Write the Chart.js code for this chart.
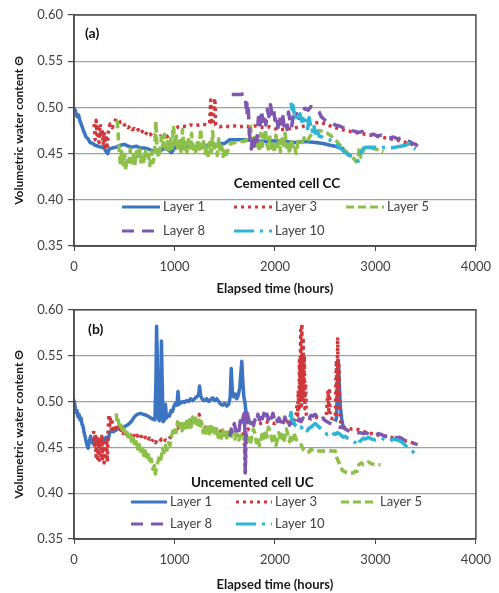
<!DOCTYPE html>
<html>
<head>
<meta charset="utf-8">
<title>Volumetric water content</title>
<script src="https://cdn.jsdelivr.net/npm/chart.js@4"></script>
<style>
  body { margin: 0; background: #fff; }
  canvas { display: block; }
</style>
</head>
<body>
<canvas id="chartCC" width="499" height="297"></canvas>
<canvas id="chartUC" width="499" height="296"></canvas>
<script>
const FONT = 'Lato, "Open Sans", sans-serif';

// Series names and styles, shared by both cells
const layerNames = ["Layer 1", "Layer 3", "Layer 5", "Layer 8", "Layer 10"];
const layerColors = ["#3b74c2", "#d0373b", "#8cc048", "#7e57b0", "#2eb4d6"];
const layerDashes = [[], [3, 4], [8, 4], [12, 8], [20, 6, 3, 6]];

const xTicks = [0, 1000, 2000, 3000, 4000];
const yTicks = [0.35, 0.40, 0.45, 0.50, 0.55, 0.60];

// Cemented cell CC - [elapsed hours, theta]
const ccLayer1 = [[0,0.500],[15,0.496],[30,0.490],[45,0.492],[60,0.485],[75,0.481],[90,0.476],[105,0.472],[120,0.468],[140,0.466],[160,0.462],[185,0.461],[210,0.459],[240,0.458],[270,0.457],[300,0.456],[320,0.452],[335,0.450],[350,0.455],[380,0.456],[420,0.457],[460,0.459],[500,0.460],[540,0.458],[580,0.457],[620,0.458],[660,0.456],[700,0.456],[740,0.455],[780,0.453],[820,0.454],[860,0.453],[900,0.456],[940,0.454],[970,0.451],[1000,0.456],[1050,0.457],[1100,0.456],[1150,0.457],[1200,0.456],[1250,0.458],[1300,0.458],[1350,0.460],[1400,0.459],[1450,0.461],[1500,0.461],[1550,0.465],[1600,0.465],[1700,0.465],[1800,0.464],[1900,0.463],[2000,0.464],[2100,0.463],[2200,0.462],[2300,0.463],[2400,0.462],[2480,0.461],[2550,0.459],[2600,0.458],[2650,0.456],[2690,0.455]];
const ccLayer3 = [[200,0.482],[210,0.465],[220,0.486],[230,0.470],[240,0.478],[250,0.462],[260,0.482],[270,0.468],[280,0.476],[290,0.460],[300,0.474],[310,0.457],[320,0.470],[330,0.455],[345,0.478],[360,0.482],[380,0.478],[400,0.483],[420,0.488],[440,0.486],[460,0.484],[480,0.485],[500,0.481],[520,0.482],[540,0.478],[560,0.480],[580,0.476],[600,0.477],[620,0.474],[640,0.476],[660,0.472],[680,0.474],[700,0.470],[720,0.472],[740,0.469],[760,0.471],[780,0.468],[800,0.470],[830,0.467],[860,0.469],[890,0.467],[920,0.468],[950,0.470],[980,0.473],[1010,0.477],[1040,0.479],[1080,0.480],[1120,0.479],[1160,0.481],[1200,0.480],[1240,0.481],[1280,0.482],[1320,0.481],[1350,0.483],[1360,0.508],[1368,0.483],[1385,0.482],[1395,0.505],[1402,0.510],[1410,0.481],[1450,0.479],[1500,0.480],[1550,0.479],[1600,0.480],[1650,0.479],[1700,0.480],[1750,0.479],[1800,0.480],[1850,0.479],[1900,0.478],[1950,0.479],[2000,0.477],[2050,0.476],[2100,0.476],[2150,0.477],[2200,0.478],[2250,0.479],[2300,0.480],[2350,0.482],[2400,0.483],[2450,0.484],[2500,0.482],[2550,0.480],[2600,0.478],[2650,0.477],[2700,0.475],[2750,0.474],[2800,0.473],[2850,0.472],[2900,0.471],[2950,0.470],[3000,0.469],[3100,0.467],[3200,0.465],[3300,0.462],[3400,0.459]];
const ccLayer5 = [[430,0.486],[440,0.470],[450,0.452],[460,0.440],[475,0.452],[490,0.438],[505,0.449],[515,0.432],[530,0.446],[545,0.441],[560,0.455],[575,0.440],[590,0.448],[605,0.437],[620,0.452],[635,0.443],[650,0.457],[665,0.441],[680,0.450],[695,0.439],[710,0.455],[725,0.444],[740,0.449],[755,0.437],[770,0.452],[785,0.440],[800,0.447],[815,0.485],[825,0.456],[840,0.446],[855,0.452],[870,0.468],[885,0.458],[900,0.471],[915,0.455],[930,0.463],[945,0.452],[960,0.466],[975,0.454],[990,0.480],[1005,0.458],[1020,0.469],[1035,0.453],[1050,0.464],[1065,0.452],[1080,0.476],[1095,0.455],[1110,0.462],[1125,0.451],[1140,0.467],[1155,0.453],[1170,0.472],[1185,0.455],[1200,0.460],[1215,0.450],[1230,0.465],[1245,0.452],[1260,0.477],[1275,0.456],[1290,0.463],[1305,0.450],[1320,0.458],[1335,0.448],[1350,0.462],[1365,0.451],[1380,0.474],[1395,0.453],[1410,0.460],[1425,0.448],[1440,0.466],[1455,0.452],[1470,0.458],[1485,0.447],[1500,0.455],[1515,0.449],[1530,0.453],[1560,0.461],[1600,0.462],[1650,0.463],[1700,0.463],[1740,0.470],[1755,0.482],[1770,0.465],[1785,0.458],[1800,0.470],[1815,0.455],[1830,0.466],[1845,0.452],[1860,0.472],[1875,0.458],[1890,0.466],[1905,0.476],[1920,0.460],[1935,0.455],[1950,0.468],[1965,0.456],[1980,0.462],[1995,0.451],[2010,0.470],[2025,0.458],[2040,0.463],[2055,0.452],[2070,0.466],[2085,0.459],[2100,0.472],[2115,0.457],[2130,0.463],[2145,0.450],[2160,0.465],[2175,0.458],[2190,0.461],[2210,0.450],[2230,0.463],[2260,0.460],[2290,0.467],[2320,0.463],[2350,0.469],[2380,0.472],[2410,0.474],[2440,0.475],[2480,0.474],[2520,0.472],[2560,0.469],[2600,0.465],[2640,0.460],[2680,0.455],[2720,0.451],[2760,0.447],[2790,0.444],[2810,0.441],[2825,0.444],[2840,0.457],[2855,0.446],[2870,0.451],[2890,0.456],[2920,0.457],[2960,0.456],[3000,0.455],[3040,0.454],[3080,0.452]];
const ccLayer8 = [[1570,0.514],[1600,0.514],[1630,0.514],[1660,0.514],[1690,0.515],[1705,0.513],[1712,0.500],[1718,0.510],[1725,0.490],[1735,0.498],[1745,0.475],[1755,0.462],[1765,0.455],[1775,0.468],[1790,0.458],[1805,0.472],[1820,0.463],[1835,0.489],[1850,0.478],[1865,0.497],[1880,0.485],[1895,0.493],[1910,0.481],[1925,0.498],[1940,0.490],[1955,0.503],[1970,0.493],[1985,0.499],[2000,0.486],[2015,0.492],[2030,0.478],[2045,0.490],[2060,0.482],[2075,0.494],[2090,0.480],[2105,0.486],[2120,0.476],[2135,0.495],[2150,0.485],[2165,0.478],[2180,0.490],[2200,0.484],[2220,0.493],[2240,0.488],[2260,0.495],[2280,0.497],[2300,0.499],[2330,0.497],[2360,0.501],[2380,0.500],[2410,0.498],[2440,0.495],[2460,0.490],[2480,0.488],[2510,0.485],[2540,0.484],[2570,0.483],[2600,0.481],[2640,0.480],[2680,0.478],[2720,0.476],[2760,0.475],[2800,0.474],[2840,0.473],[2870,0.474],[2900,0.471],[2940,0.470],[2980,0.471],[3020,0.469],[3060,0.470],[3100,0.468],[3140,0.467],[3180,0.468],[3220,0.466],[3260,0.467],[3300,0.464],[3340,0.463],[3370,0.461],[3400,0.460],[3420,0.458]];
const ccLayer10 = [[2160,0.505],[2170,0.498],[2180,0.502],[2190,0.494],[2200,0.497],[2210,0.489],[2220,0.494],[2235,0.490],[2250,0.493],[2265,0.485],[2280,0.488],[2295,0.481],[2310,0.486],[2325,0.477],[2340,0.489],[2355,0.480],[2370,0.474],[2385,0.482],[2400,0.472],[2420,0.474],[2440,0.469],[2470,0.468],[2500,0.466],[2540,0.465],[2580,0.462],[2620,0.459],[2660,0.455],[2700,0.451],[2740,0.448],[2780,0.447],[2810,0.444],[2830,0.442],[2845,0.447],[2860,0.452],[2880,0.456],[2910,0.457],[2950,0.457],[3000,0.457],[3050,0.456],[3100,0.457],[3150,0.456],[3200,0.457],[3250,0.458],[3300,0.459],[3340,0.461],[3360,0.460],[3380,0.456],[3400,0.455]];

// Uncemented cell UC - [elapsed hours, theta]; null breaks the trace
const ucLayer1 = [[0,0.502],[10,0.495],[20,0.488],[30,0.490],[40,0.483],[50,0.486],[60,0.480],[70,0.482],[80,0.475],[90,0.473],[100,0.466],[110,0.462],[120,0.457],[130,0.452],[140,0.449],[150,0.455],[165,0.462],[175,0.457],[190,0.454],[205,0.460],[220,0.455],[240,0.458],[260,0.457],[280,0.460],[300,0.458],[320,0.461],[340,0.458],[355,0.466],[370,0.468],[390,0.467],[420,0.469],[450,0.472],[480,0.471],[510,0.473],[540,0.475],[570,0.478],[600,0.483],[630,0.486],[660,0.487],[690,0.486],[720,0.485],[750,0.483],[780,0.481],[805,0.480],[815,0.520],[822,0.582],[830,0.540],[838,0.482],[850,0.479],[862,0.500],[870,0.566],[878,0.520],[886,0.478],[900,0.480],[910,0.497],[920,0.482],[935,0.486],[950,0.484],[965,0.490],[980,0.489],[995,0.495],[1010,0.498],[1025,0.496],[1035,0.511],[1045,0.497],[1060,0.498],[1080,0.500],[1100,0.499],[1120,0.501],[1140,0.500],[1160,0.503],[1180,0.501],[1200,0.503],[1220,0.505],[1240,0.507],[1250,0.517],[1260,0.506],[1280,0.502],[1300,0.501],[1320,0.503],[1340,0.500],[1360,0.502],[1380,0.504],[1400,0.501],[1420,0.503],[1440,0.500],[1460,0.497],[1480,0.496],[1500,0.498],[1520,0.495],[1540,0.497],[1555,0.505],[1565,0.536],[1575,0.512],[1590,0.505],[1605,0.508],[1620,0.503],[1635,0.507],[1650,0.515],[1660,0.530],[1670,0.544],[1680,0.522],[1690,0.505],[1700,0.500],[1710,0.490],[1720,0.478],[1740,0.476],[1760,null],[2600,0.478],[2612,0.482],[2620,0.510],[2630,0.545],[2640,0.520],[2650,0.495],[2665,0.480],[2680,0.472],[2700,0.470]];
const ucLayer3 = [[195,0.468],[205,0.452],[212,0.465],[220,0.440],[228,0.462],[236,0.438],[244,0.460],[252,0.436],[260,0.458],[268,0.441],[276,0.462],[284,0.435],[292,0.456],[300,0.433],[308,0.455],[316,0.440],[324,0.459],[332,0.434],[340,0.470],[348,0.486],[356,0.474],[364,0.483],[372,0.470],[380,0.478],[395,0.470],[410,0.474],[425,0.468],[440,0.471],[455,0.466],[470,0.470],[490,0.465],[510,0.468],[530,0.463],[550,0.466],[570,0.462],[590,0.465],[610,0.460],[630,0.463],[650,0.459],[670,0.462],[690,0.458],[710,0.461],[730,0.457],[750,0.460],[770,0.456],[790,0.459],[810,0.455],[830,0.458],[850,0.456],[870,0.459],[890,0.456],[910,0.458],[930,0.457],[950,0.460],[970,0.462],[990,0.466],[1010,0.470],[1030,0.472],[1050,0.470],[1070,0.474],[1090,0.476],[1110,0.474],[1130,0.478],[1150,0.476],[1170,0.480],[1190,0.478],[1210,0.481],[1230,0.484],[1245,0.486],[1260,0.478],[1290,0.474],[1320,0.470],[1350,0.472],[1380,0.468],[1410,0.470],[1440,0.466],[1470,0.468],[1500,0.465],[1530,0.467],[1560,0.464],[1590,0.466],[1620,0.463],[1650,0.466],[1680,0.464],[1695,0.466],[1700,0.440],[1705,0.420],[1710,0.452],[1720,0.468],[1750,0.472],[1800,0.475],[1850,0.476],[1900,0.478],[1950,0.477],[2000,0.476],[2050,0.478],[2100,0.477],[2150,0.479],[2200,0.480],[2212,0.486],[2220,0.498],[2226,0.485],[2232,0.512],[2238,0.490],[2244,0.545],[2250,0.500],[2256,0.578],[2262,0.495],[2268,0.585],[2274,0.505],[2280,0.570],[2286,0.500],[2292,0.550],[2298,0.492],[2305,0.520],[2312,0.486],[2320,0.482],[2360,0.481],[2400,0.483],[2440,0.482],[2480,0.481],[2510,0.483],[2520,0.500],[2528,0.512],[2536,0.490],[2542,0.515],[2550,0.482],[2580,0.481],[2600,0.484],[2606,0.520],[2612,0.545],[2618,0.500],[2624,0.570],[2630,0.505],[2636,0.540],[2644,0.490],[2655,0.476],[2680,0.472],[2720,0.471],[2760,0.470],[2800,0.470],[2840,0.469],[2880,0.467],[2920,0.466],[2960,0.465],[3000,0.464],[3100,0.462],[3200,0.460],[3300,0.457],[3400,0.454]];
const ucLayer5 = [[420,0.487],[430,0.476],[440,0.480],[455,0.470],[470,0.474],[485,0.466],[500,0.470],[515,0.462],[530,0.466],[545,0.459],[560,0.463],[575,0.455],[590,0.460],[605,0.452],[620,0.456],[635,0.448],[650,0.453],[665,0.446],[680,0.450],[695,0.441],[710,0.446],[725,0.437],[740,0.442],[755,0.432],[770,0.437],[785,0.426],[800,0.430],[810,0.421],[820,0.428],[835,0.434],[850,0.441],[865,0.437],[880,0.449],[895,0.444],[910,0.452],[925,0.447],[940,0.455],[955,0.452],[970,0.462],[985,0.468],[1000,0.472],[1015,0.466],[1030,0.478],[1045,0.470],[1060,0.476],[1075,0.468],[1090,0.479],[1105,0.471],[1120,0.478],[1135,0.469],[1150,0.480],[1165,0.472],[1180,0.483],[1195,0.473],[1210,0.484],[1225,0.475],[1240,0.482],[1255,0.470],[1270,0.477],[1285,0.466],[1300,0.474],[1315,0.464],[1330,0.472],[1345,0.463],[1360,0.475],[1375,0.465],[1390,0.471],[1405,0.462],[1420,0.470],[1435,0.461],[1450,0.468],[1465,0.460],[1480,0.469],[1495,0.461],[1510,0.466],[1525,0.458],[1540,0.467],[1560,0.460],[1580,0.466],[1600,0.459],[1620,0.465],[1640,0.458],[1660,0.463],[1680,0.457],[1700,0.462],[1720,0.455],[1740,0.460],[1755,0.453],[1770,0.462],[1785,0.470],[1800,0.465],[1815,0.455],[1830,0.461],[1845,0.452],[1860,0.458],[1875,0.466],[1890,0.460],[1905,0.469],[1920,0.461],[1935,0.472],[1950,0.468],[1965,0.460],[1980,0.455],[1995,0.462],[2010,0.452],[2025,0.459],[2040,0.466],[2055,0.458],[2070,0.464],[2085,0.455],[2100,0.462],[2115,0.470],[2130,0.462],[2145,0.456],[2160,0.464],[2175,0.458],[2190,0.466],[2205,0.460],[2220,0.457],[2240,0.455],[2260,0.453],[2280,0.448],[2300,0.446],[2320,0.444],[2340,0.445],[2360,0.448],[2380,0.446],[2420,0.446],[2460,0.446],[2500,0.446],[2540,0.446],[2580,0.446],[2600,0.446],[2610,0.440],[2630,0.435],[2650,0.430],[2670,0.425],[2700,0.423],[2740,0.422],[2780,0.422],[2800,0.424],[2820,0.424],[2835,0.431],[2860,0.433],[2880,0.431],[2900,0.432],[2930,0.434],[2960,0.432],[3000,0.431],[3050,0.431]];
const ucLayer8 = [[1550,0.462],[1565,0.470],[1580,0.465],[1595,0.476],[1610,0.468],[1625,0.472],[1640,0.466],[1655,0.479],[1670,0.473],[1685,0.484],[1695,0.487],[1700,0.470],[1705,0.422],[1710,0.475],[1718,0.493],[1728,0.486],[1740,0.480],[1755,0.476],[1770,0.482],[1785,0.474],[1800,0.480],[1815,0.476],[1830,0.486],[1845,0.480],[1860,0.488],[1875,0.481],[1890,0.487],[1905,0.479],[1920,0.486],[1935,0.480],[1950,0.488],[1965,0.482],[1980,0.487],[1995,0.480],[2010,0.484],[2025,0.478],[2040,0.482],[2055,0.476],[2070,0.481],[2085,0.477],[2100,0.483],[2115,0.476],[2130,0.480],[2145,0.474],[2160,0.479],[2180,0.476],[2200,0.480],[2220,0.477],[2240,0.481],[2260,0.478],[2280,0.482],[2300,0.479],[2320,0.483],[2340,0.482],[2360,0.485],[2380,0.484],[2400,0.486],[2420,0.483],[2440,0.485],[2460,0.481],[2480,0.482],[2500,0.479],[2520,0.478],[2550,0.476],[2580,0.474],[2610,0.473],[2640,0.472],[2670,0.472],[2700,0.470],[2730,0.468],[2760,0.467],[2790,0.467],[2820,0.466],[2850,0.466],[2880,0.465],[2910,0.466],[2940,0.464],[2970,0.463],[3000,0.463],[3030,0.465],[3060,0.464],[3090,0.462],[3120,0.462],[3150,0.461],[3180,0.462],[3210,0.460],[3240,0.461],[3270,0.459],[3300,0.457],[3330,0.456],[3360,0.455],[3390,0.454],[3420,0.453]];
const ucLayer10 = [[2150,0.483],[2160,0.488],[2170,0.480],[2185,0.478],[2200,0.474],[2220,0.472],[2240,0.470],[2260,0.472],[2280,0.469],[2300,0.471],[2320,0.468],[2340,0.471],[2360,0.472],[2380,0.474],[2400,0.476],[2420,0.474],[2440,0.472],[2460,0.470],[2480,0.468],[2500,0.466],[2520,0.464],[2540,0.466],[2560,0.467],[2580,0.465],[2600,0.464],[2620,0.466],[2640,0.465],[2660,0.463],[2680,0.461],[2700,0.462],[2720,0.460],[2740,0.459],[2760,0.458],[2780,0.457],[2800,0.455],[2820,0.452],[2840,0.456],[2860,0.458],[2880,0.460],[2900,0.459],[2930,0.461],[2960,0.459],[3000,0.458],[3030,0.459],[3060,0.460],[3100,0.458],[3140,0.457],[3180,0.459],[3220,0.458],[3260,0.456],[3300,0.452],[3330,0.449],[3360,0.446],[3390,0.444],[3420,0.447]];

/**
 * Builds the five layer datasets. Later layers get a lower `order`
 * so they are painted on top, like the spreadsheet plot.
 */
function buildDatasets(series) {
    return series.map((points, i) => ({
        label: layerNames[i],
        data: points.map(p => ({ x: p[0], y: p[1] })),
        borderColor: layerColors[i],
        borderDash: layerDashes[i],
        borderWidth: 3.5,
        borderJoinStyle: "round",
        pointRadius: 0,
        tension: 0,
        fill: false,
        order: series.length - 1 - i,
    }));
}

// Legend drawn inside the plot area, two rows
const insideLegend = {
    id: "insideLegend",
    afterDraw(chart, args, opts) {
        const ctx = chart.ctx;
        ctx.save();
        ctx.font = "13px " + FONT;
        ctx.textBaseline = "middle";
        ctx.textAlign = "left";
        chart.data.datasets.forEach((ds, i) => {
            const slot = opts.slots[i];
            const x = opts.cols[slot[0]];
            const y = opts.rows[slot[1]];
            ctx.strokeStyle = ds.borderColor;
            ctx.lineWidth = 3;
            ctx.setLineDash(ds.borderDash);
            ctx.beginPath();
            ctx.moveTo(x - 3 - opts.lineLength, y);
            ctx.lineTo(x - 3, y);
            ctx.stroke();
            ctx.setLineDash([]);
            ctx.fillStyle = "#404040";
            ctx.fillText(ds.label, x, y);
        });
        ctx.restore();
    },
};

// Panel letter, cell caption and the frame round the plot area
const panelText = {
    id: "panelText",
    afterDatasetsDraw(chart, args, opts) {
        const { ctx, chartArea, scales } = chart;
        ctx.save();
        ctx.strokeStyle = "#4a4a4a";
        ctx.lineWidth = 1.5;
        ctx.strokeRect(chartArea.left, chartArea.top, chartArea.right - chartArea.left, chartArea.bottom - chartArea.top);
        ctx.fillStyle = "#111";
        ctx.textAlign = "center";
        ctx.textBaseline = "middle";
        opts.items.forEach(t => {
            ctx.font = "bold " + t.size + "px " + FONT;
            ctx.fillText(t.text, scales.x.getPixelForValue(t.x), scales.y.getPixelForValue(t.y));
        });
        ctx.restore();
    },
};

/**
 * Creates one panel: elapsed time against volumetric water content.
 */
function createChart(ctx, series, texts, legend, padTop, xAxisHeight) {
    return new Chart(ctx, {
        type: "line",
        data: { datasets: buildDatasets(series) },
        options: {
            responsive: false,
            animation: false,
            layout: { padding: { top: padTop, right: 17, left: 0, bottom: 0 } },
            scales: {
                x: {
                    type: "linear",
                    min: xTicks[0],
                    max: xTicks[xTicks.length - 1],
                    afterBuildTicks: scale => { scale.ticks = xTicks.map(v => ({ value: v })); },
                    afterFit: scale => { scale.height = xAxisHeight; },
                    ticks: { color: "#404040", font: { family: FONT, size: 13 }, padding: 8, maxRotation: 0, callback: v => String(v) },
                    grid: { drawOnChartArea: false, tickLength: 5, tickColor: "#4a4a4a" },
                    border: { color: "#4a4a4a", width: 1.5 },
                    title: {
                        display: true,
                        text: "Elapsed time (hours)",
                        color: "#1a1a1a",
                        font: { family: FONT, size: 13, weight: "bold" },
                        padding: { top: 0, bottom: 0 },
                    },
                },
                y: {
                    min: yTicks[0],
                    max: yTicks[yTicks.length - 1],
                    afterBuildTicks: scale => { scale.ticks = yTicks.map(v => ({ value: v })); },
                    afterFit: scale => { scale.width = 74; },
                    ticks: { color: "#404040", font: { family: FONT, size: 13 }, padding: 5, callback: v => v.toFixed(2) },
                    grid: { color: "#a0a0a0", lineWidth: 1.2, tickLength: 6, tickColor: "#4a4a4a" },
                    border: { color: "#4a4a4a", width: 1.5 },
                    title: {
                        display: true,
                        text: "Volumetric water content Θ",
                        color: "#1a1a1a",
                        font: { family: FONT, size: 12, weight: "bold" },
                        padding: { top: 12, bottom: 0 },
                    },
                },
            },
            plugins: {
                legend: { display: false },
                tooltip: { enabled: false },
                insideLegend: legend,
                panelText: { items: texts },
            },
        },
        plugins: [panelText, insideLegend],
    });
}

createChart(
    document.getElementById("chartCC").getContext("2d"),
    [ccLayer1, ccLayer3, ccLayer5, ccLayer8, ccLayer10],
    [
        { text: "(a)", x: 180, y: 0.580, size: 14 },
        { text: "Cemented cell CC", x: 2120, y: 0.418, size: 13.5 },
    ],
    { cols: [163, 275, 387], rows: [207, 231], lineLength: 38, slots: [[0, 0], [1, 0], [2, 0], [0, 1], [1, 1]] },
    15,
    51
);

createChart(
    document.getElementById("chartUC").getContext("2d"),
    [ucLayer1, ucLayer3, ucLayer5, ucLayer8, ucLayer10],
    [
        { text: "(b)", x: 216, y: 0.579, size: 14 },
        { text: "Uncemented cell UC", x: 1775, y: 0.411, size: 13.5 },
    ],
    { cols: [170, 275, 380], rows: [205, 227], lineLength: 36, slots: [[0, 0], [1, 0], [2, 0], [0, 1], [1, 1]] },
    12,
    54
);
</script>
</body>
</html>
